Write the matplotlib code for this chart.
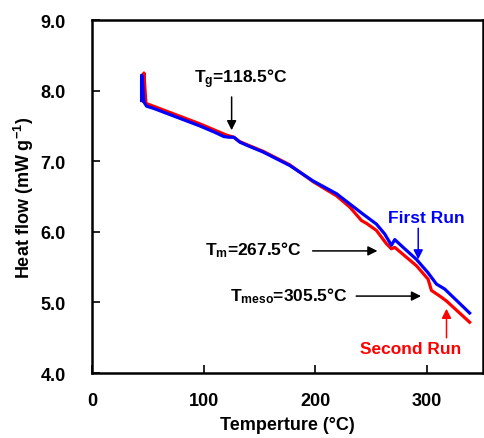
import matplotlib
matplotlib.use("Agg")
import matplotlib.pyplot as plt

plt.rcParams['font.family'] = ['Liberation Sans', 'DejaVu Sans']
plt.rcParams['font.weight'] = 'bold'
plt.rcParams['mathtext.default'] = 'regular'

# First run (blue)
t_first = [44.4, 44.4, 44.9, 46.5, 48.9, 55, 70, 85, 96.6, 110, 118, 123, 127,
           132.4, 141, 153.3, 177, 198, 218.9, 242.7, 254.6, 262, 268, 271,
           278.5, 290.4, 300.8, 308.3, 315.7, 338]
hf_first = [7.86, 8.22, 8.20, 7.84, 7.78, 7.75, 7.66, 7.57, 7.50, 7.41, 7.35, 7.34, 7.34,
            7.27, 7.21, 7.13, 6.94, 6.72, 6.54, 6.25, 6.11, 5.97, 5.81, 5.89,
            5.78, 5.61, 5.42, 5.26, 5.19, 4.85]

# Second run (red)
t_second = [46.5, 46.5, 48.3, 55, 70, 85, 96.6, 110, 120.5, 127, 132, 141, 153.3,
            177, 198, 218.9, 230.8, 241.2, 245.7, 254.6, 263.6, 268, 271, 290.4,
            300.8, 303.8, 311.3, 317.3, 338]
hf_second = [7.85, 8.25, 7.82, 7.78, 7.69, 7.60, 7.53, 7.44, 7.37, 7.34, 7.28, 7.22, 7.14,
             6.95, 6.71, 6.51, 6.35, 6.16, 6.12, 6.02, 5.83, 5.76, 5.78, 5.52,
             5.33, 5.17, 5.09, 5.02, 4.72]

x_ticks = [0, 100, 200, 300]
y_ticks = [4.0, 5.0, 6.0, 7.0, 8.0, 9.0]

fig = plt.figure(figsize=(4.84, 4.39), dpi=100)
ax = fig.add_axes([0.190, 0.148, 0.808, 0.804])

ax.plot(t_second, hf_second, color='#ff0000', lw=2.3, solid_joinstyle='round')
ax.plot(t_first, hf_first, color='#0000ff', lw=2.3, solid_joinstyle='round')

ax.set_xlim(0, 350)
ax.set_ylim(4.0, 9.0)
ax.set_xticks(x_ticks)
ax.set_yticks(y_ticks)
ax.set_yticklabels([f"{v:.1f}" for v in y_ticks])
ax.tick_params(direction='in', length=6, width=1.2, labelsize=13)
ax.tick_params(axis='y', pad=19)
ax.tick_params(axis='x', pad=14)
for s in ax.spines.values():
    s.set_linewidth(1.8)

ax.set_xlabel('Temperture (°C)', fontsize=13, fontweight='bold', labelpad=5)
ax.set_ylabel('Heat flow (mW g$^{-1}$)', fontsize=13, fontweight='bold', labelpad=3)

akw = dict(arrowstyle='-|>', color='black', lw=1.1, mutation_scale=14)
fs = 12.5
ax.annotate('', xy=(125, 7.40), xytext=(125, 7.95), arrowprops=akw)
ax.text(133.5, 8.18, 'T$_g$=118.5°C', ha='center', va='center', fontsize=fs, fontweight='bold')

ax.annotate('', xy=(258, 5.73), xytext=(195, 5.73), arrowprops=akw)
ax.text(188, 5.75, 'T$_m$=267.5°C', ha='right', va='center', fontsize=fs, fontweight='bold')

ax.annotate('', xy=(297, 5.09), xytext=(234, 5.09), arrowprops=akw)
ax.text(229, 5.11, 'T$_{meso}$=305.5°C', ha='right', va='center', fontsize=fs, fontweight='bold')

ax.annotate('', xy=(292, 5.57), xytext=(292, 6.09),
            arrowprops=dict(arrowstyle='-|>', color='#0000ff', lw=1.1, mutation_scale=14))
ax.text(299, 6.21, 'First Run', ha='center', va='center', fontsize=fs, fontweight='bold', color='#0000ff')

ax.annotate('', xy=(317.3, 4.95), xytext=(317.3, 4.46),
            arrowprops=dict(arrowstyle='-|>', color='#ff0000', lw=1.1, mutation_scale=14))
ax.text(285, 4.35, 'Second Run', ha='center', va='center', fontsize=fs, fontweight='bold', color='#ff0000')

fig.savefig('out.png', dpi=100)
